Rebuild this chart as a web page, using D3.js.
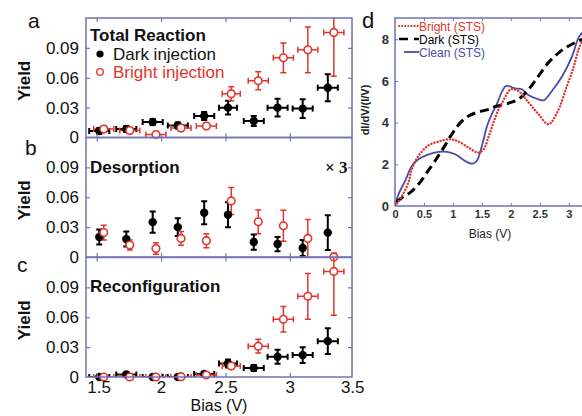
<!DOCTYPE html>
<html><head><meta charset="utf-8">
<script src="https://cdn.jsdelivr.net/npm/d3@7"></script>
<style>html,body{margin:0;padding:0;background:#fff;}svg{display:block;font-family:"Liberation Sans",Arial,sans-serif;}</style>
</head><body>
<svg id="c" width="582" height="416"></svg>
<script>
// ---------- data (left panels) ----------
const biasDark   = [1.52, 1.73, 1.935, 2.13, 2.335, 2.52, 2.72, 2.905, 3.10, 3.295];
const biasBright = [1.555, 1.757, 1.96, 2.155, 2.352, 2.545, 2.755, 2.95, 3.14, 3.342];
const biasErr    = [0.078, 0.078, 0.078, 0.078, 0.078, 0.07, 0.078, 0.078, 0.078, 0.078];

const totalDark      = [0.0065, 0.0085, 0.0155, 0.012, 0.0215, 0.030, 0.0165, 0.030, 0.029, 0.050];
const totalDarkErr   = [0.003, 0.003, 0.003, 0.003, 0.004, 0.007, 0.005, 0.009, 0.0095, 0.0135];
const totalBright    = [0.0085, 0.007, 0.003, 0.0095, 0.0115, 0.044, 0.057, 0.080, 0.088, 0.1055];
const totalBrightErr = [0.003, 0.003, 0.003, 0.003, 0.003, 0.007, 0.009, 0.015, 0.023, 0.044];

const desDark      = [0.020, 0.018, 0.035, 0.030, 0.0445, 0.0425, 0.015, 0.013, 0.009, 0.0245];
const desDarkErr   = [0.0075, 0.0075, 0.0107, 0.009, 0.0115, 0.0125, 0.0077, 0.0072, 0.008, 0.0175];
const desBright    = [0.0245, 0.012, 0.0085, 0.0187, 0.0164, 0.0563, 0.0353, 0.0314, 0.0187, 0.0];
const desBrightErr = [0.0075, 0.005, 0.0058, 0.007, 0.007, 0.0135, 0.012, 0.0155, 0.019, 0.004];

const recDark      = [0.0, 0.0025, 0.0, 0.0, 0.003, 0.0136, 0.009, 0.0203, 0.022, 0.036];
const recDarkErr   = [0.002, 0.002, 0.002, 0.002, 0.002, 0.004, 0.003, 0.007, 0.008, 0.013];
const recBright    = [0.0, 0.0, 0.0, 0.0003, 0.002, 0.011, 0.031, 0.058, 0.081, 0.106];
const recBrightErr = [0.002, 0.002, 0.002, 0.002, 0.002, 0.003, 0.007, 0.0128, 0.023, 0.044];

const yTicks = [0, 0.03, 0.06, 0.09];
const xTicks = [1.5, 2, 2.5, 3, 3.5];
const panelLetters = ["a", "b", "c"];
const panelTitles = ["Total Reaction", "Desorption", "Reconfiguration"];
const legendLabels = ["Dark injection", "Bright injection"];

// ---------- data (STS panel d) ----------
const brightSTSx = [0, 0.12, 0.23, 0.29, 0.405, 0.58, 0.75, 0.95, 1.10, 1.27, 1.44, 1.53, 1.62, 1.70, 1.79, 1.85, 1.93, 2.0, 2.13, 2.31, 2.48, 2.65, 2.80, 2.97, 3.09, 3.17, 3.25];
const brightSTSy = [0, 0.48, 1.12, 1.76, 2.4, 2.91, 3.09, 3.2, 3.09, 2.8, 2.56, 2.72, 3.36, 4.0, 4.64, 4.95, 5.36, 5.6, 5.52, 4.96, 4.4, 3.92, 4.48, 5.76, 6.71, 7.52, 8.0];
const darkSTSx = [0.02, 0.12, 0.26, 0.405, 0.55, 0.69, 0.84, 0.98, 1.13, 1.27, 1.44, 1.62, 1.73, 1.96, 2.13, 2.31, 2.48, 2.65, 2.83, 3.0, 3.17, 3.25];
const darkSTSy = [0.2, 0.4, 0.64, 1.04, 1.6, 2.16, 2.8, 3.44, 4.0, 4.32, 4.51, 4.64, 4.77, 4.93, 5.12, 5.6, 6.24, 6.88, 7.36, 7.68, 7.92, 8.0];
const cleanSTSx = [0, 0.06, 0.175, 0.29, 0.405, 0.58, 0.75, 0.9, 1.04, 1.21, 1.33, 1.41, 1.5, 1.59, 1.67, 1.76, 1.85, 1.92, 2.08, 2.19, 2.31, 2.48, 2.57, 2.71, 2.89, 3.06, 3.17, 3.25];
const cleanSTSy = [0, 0.56, 1.2, 1.92, 2.24, 2.48, 2.6, 2.6, 2.48, 2.16, 2.03, 2.16, 2.88, 3.84, 4.4, 4.9, 5.5, 5.76, 5.64, 5.6, 5.31, 5.12, 5.07, 5.52, 6.24, 7.19, 8.08, 8.35];
const stsXTicks = [0, 0.5, 1, 1.5, 2, 2.5, 3];
const stsYTicks = [0, 2, 4, 6, 8];
const stsLegend = ["Bright (STS)", "Dark (STS)", "Clean (STS)"];

// ---------- styles ----------
const RED = "#e2352c", FRAME = "#7272b8", BLUE = "#4b4ba8";

const svg = d3.select("#c");
svg.append("rect").attr("width", 582).attr("height", 416).attr("fill", "#fff");

const L = 86, R = 352, tops = [18, 137.5, 257.5], H = 119.5;
const x = d3.scaleLinear().domain([1.417, 3.483]).range([L, R]);

const panels = [
  {dark: totalDark, darkErr: totalDarkErr, bright: totalBright, brightErr: totalBrightErr, xerr: true},
  {dark: desDark, darkErr: desDarkErr, bright: desBright, brightErr: desBrightErr, xerr: false},
  {dark: recDark, darkErr: recDarkErr, bright: recBright, brightErr: recBrightErr, xerr: true}
];
const fmt = d => d === 0 ? "0" : d.toFixed(2);

panels.forEach((p, i) => {
  const top = tops[i], bot = top + H;
  const y = d3.scaleLinear().domain([0, 0.12]).range([bot, top]);
  const g = svg.append("g");
  const cid = "clip" + i;
  svg.append("clipPath").attr("id", cid).append("rect")
    .attr("x", L).attr("y", top).attr("width", R - L).attr("height", H);
  const eg = g.append("g").attr("clip-path", `url(#${cid})`);

  function drawSeries(xs, vals, errs, color, sw, filled) {
    vals.forEach((v, k) => {
      const cx = x(xs[k]), cy = y(v);
      const y1 = y(v + errs[k]), y2 = y(v - errs[k]);
      eg.append("line").attr("x1", cx).attr("x2", cx).attr("y1", y1).attr("y2", y2)
        .attr("stroke", color).attr("stroke-width", sw);
      [y1, y2].forEach(yy => eg.append("line").attr("x1", cx - 3).attr("x2", cx + 3)
        .attr("y1", yy).attr("y2", yy).attr("stroke", color).attr("stroke-width", sw));
      if (p.xerr) {
        const xa = x(xs[k] - biasErr[k]), xb = x(xs[k] + biasErr[k]);
        eg.append("line").attr("x1", xa).attr("x2", xb).attr("y1", cy).attr("y2", cy)
          .attr("stroke", color).attr("stroke-width", sw);
        [xa, xb].forEach(xx => eg.append("line").attr("x1", xx).attr("x2", xx)
          .attr("y1", cy - 3).attr("y2", cy + 3).attr("stroke", color).attr("stroke-width", sw));
      }
    });
    vals.forEach((v, k) => {
      g.append("circle").attr("cx", x(xs[k])).attr("cy", y(v)).attr("r", filled ? 4.2 : 3.8)
        .attr("fill", filled ? "#000" : "#fff").attr("stroke", color).attr("stroke-width", filled ? 0 : 1.6);
    });
  }
  drawSeries(biasDark, p.dark, p.darkErr, "#000", 2, true);
  drawSeries(biasBright, p.bright, p.brightErr, RED, 1.5, false);

  // axes (inward ticks)
  const ya = g.append("g").attr("transform", `translate(${L},0)`)
    .call(d3.axisLeft(y).tickValues(yTicks).tickSizeInner(-4).tickSizeOuter(0).tickPadding(7).tickFormat(fmt));
  ya.select(".domain").remove();
  ya.selectAll("text").attr("font-size", 17).attr("font-family", "Liberation Sans, Arial, sans-serif").attr("fill", "#111").attr("dy", "0.38em").attr("y", -1);
  ya.selectAll("line").attr("stroke", FRAME).attr("stroke-width", 1.2).filter(d => d === 0).remove();
  const yr = g.append("g").attr("transform", `translate(${R},0)`)
    .call(d3.axisRight(y).tickValues(yTicks.filter(d => d > 0)).tickSizeInner(-4).tickSizeOuter(0).tickFormat(""));
  yr.select(".domain").remove(); yr.selectAll("line").attr("stroke", FRAME).attr("stroke-width", 1.2);
  const xt = g.append("g").attr("transform", `translate(0,${top})`)
    .call(d3.axisTop(x).tickValues(xTicks.slice(0, 4)).tickSizeInner(-4).tickSizeOuter(0).tickFormat(""));
  xt.select(".domain").remove(); xt.selectAll("line").attr("stroke", FRAME).attr("stroke-width", 1.2);
  const xb = g.append("g").attr("transform", `translate(0,${bot})`)
    .call(d3.axisBottom(x).tickValues(xTicks).tickSizeInner(-4).tickSizeOuter(0).tickPadding(4)
      .tickFormat(i === 2 ? (d => String(d)) : ""));
  xb.select(".domain").remove();
  xb.selectAll("line").attr("stroke", FRAME).attr("stroke-width", 1.2).filter(d => d > 3.483).remove();
  xb.selectAll("text").attr("font-size", 17).attr("font-family", "Liberation Sans, Arial, sans-serif").attr("fill", "#111")
    .attr("dx", d => d === 1.5 ? 2 : (d === 3.5 ? -2 : 0));

  g.append("rect").attr("x", L).attr("y", top).attr("width", R - L).attr("height", H)
    .attr("fill", "none").attr("stroke", FRAME).attr("stroke-width", 1.5);

  // texts
  svg.append("text").attr("x", i === 2 ? 17 : (i === 1 ? 25 : 28)).attr("y", [28, 155, 272][i])
    .attr("font-size", 21).attr("fill", "#111").text(panelLetters[i]);
  svg.append("text").attr("transform", `translate(30,${top + H / 2 + 3}) rotate(-90)`)
    .attr("text-anchor", "middle").attr("font-size", 17).attr("font-weight", "bold").attr("fill", "#111").text("Yield");
  svg.append("text").attr("x", 90).attr("y", [41, 173, 292][i]).attr("font-size", 17)
    .attr("font-weight", "bold").attr("fill", "#111").text(panelTitles[i]);
});

// legend of panel a
svg.append("circle").attr("cx", 100).attr("cy", 54).attr("r", 3.6).attr("fill", "#000");
svg.append("text").attr("x", 113).attr("y", 60).attr("font-size", 17).attr("fill", "#111").text(legendLabels[0]);
svg.append("circle").attr("cx", 100).attr("cy", 72).attr("r", 3.3).attr("fill", "#fff").attr("stroke", RED).attr("stroke-width", 1.3);
svg.append("text").attr("x", 113).attr("y", 78).attr("font-size", 17).attr("fill", RED).text(legendLabels[1]);
// x3 note
svg.append("text").attr("x", 325).attr("y", 173).attr("font-size", 17).attr("font-weight", "bold").attr("font-family", "Liberation Serif, serif").attr("fill", "#111").text("× 3");
// x label
svg.append("text").attr("x", 219).attr("y", 411).attr("text-anchor", "middle").attr("font-size", 16).attr("fill", "#111").text("Bias (V)");

// ---------- panel d ----------
const dL = 395, dT = 18, dB = 206;
const xd = d3.scaleLinear().domain([0, 3.5]).range([dL, dL + 3.5 * 57.9]);
const yd = d3.scaleLinear().domain([0, 9.02]).range([dB, dT]);
const gd = svg.append("g");
svg.append("clipPath").attr("id", "clipd").append("rect").attr("x", dL).attr("y", dT).attr("width", 200).attr("height", dB - dT);
const cg = gd.append("g").attr("clip-path", "url(#clipd)");
const line = d3.line().x(d => xd(d[0])).y(d => yd(d[1])).curve(d3.curveCatmullRom.alpha(0.5));
const zip = (a, b) => a.map((v, k) => [v, b[k]]);
cg.append("path").attr("d", line(zip(cleanSTSx, cleanSTSy))).attr("fill", "none").attr("stroke", BLUE).attr("stroke-width", 1.8);
cg.append("path").attr("d", line(zip(darkSTSx, darkSTSy))).attr("fill", "none").attr("stroke", "#000").attr("stroke-width", 3).attr("stroke-dasharray", "9,5");
cg.append("path").attr("d", line(zip(brightSTSx, brightSTSy))).attr("fill", "none").attr("stroke", RED).attr("stroke-width", 2.4).attr("stroke-dasharray", "0.1,3.1").attr("stroke-linecap", "round");

const ax1 = gd.append("g").attr("transform", `translate(0,${dB})`)
  .call(d3.axisBottom(xd).tickValues(stsXTicks).tickSizeInner(-3).tickSizeOuter(0).tickPadding(4).tickFormat(d => String(d)));
ax1.select(".domain").remove();
ax1.selectAll("line").attr("stroke", FRAME).filter(d => d === 0).remove();
ax1.selectAll("text").attr("font-size", 11).attr("font-weight", "bold").attr("fill", "#333").attr("font-family", "Liberation Sans, Arial, sans-serif");
const ax2 = gd.append("g").attr("transform", `translate(0,${dT})`)
  .call(d3.axisTop(xd).tickValues(stsXTicks.slice(1)).tickSizeInner(-3).tickSizeOuter(0).tickFormat(""));
ax2.select(".domain").remove(); ax2.selectAll("line").attr("stroke", FRAME);
const ay = gd.append("g").attr("transform", `translate(${dL},0)`)
  .call(d3.axisLeft(yd).tickValues(stsYTicks).tickSizeInner(-3).tickSizeOuter(0).tickPadding(6));
ay.select(".domain").remove();
ay.selectAll("line").attr("stroke", FRAME).filter(d => d === 0).remove();
ay.selectAll("text").attr("font-size", 13).attr("font-weight", "bold").attr("fill", "#333").attr("font-family", "Liberation Sans, Arial, sans-serif");

gd.append("path").attr("d", `M600,${dT}H${dL}V${dB}H600`).attr("fill", "none").attr("stroke", FRAME).attr("stroke-width", 1.5);

// legend d
const legY = [26, 39, 52];
const legCol = [RED, "#000", BLUE];
gd.append("line").attr("x1", 399).attr("x2", 419).attr("y1", legY[0]).attr("y2", legY[0]).attr("stroke", RED).attr("stroke-width", 2.2).attr("stroke-dasharray", "0.1,3").attr("stroke-linecap", "round");
gd.append("line").attr("x1", 399).attr("x2", 419).attr("y1", legY[1]).attr("y2", legY[1]).attr("stroke", "#000").attr("stroke-width", 2.6).attr("stroke-dasharray", "9,6");
gd.append("line").attr("x1", 404).attr("x2", 419).attr("y1", legY[2]).attr("y2", legY[2]).attr("stroke", BLUE).attr("stroke-width", 1.8);
stsLegend.forEach((t, k) => gd.append("text").attr("x", 419).attr("y", legY[k] + 4.5)
  .attr("font-size", 12).attr("fill", legCol[k]).text(t));

svg.append("text").attr("x", 362).attr("y", 28).attr("font-size", 22).attr("fill", "#111").text("d");
svg.append("text").attr("transform", "translate(369,110) rotate(-90)").attr("text-anchor", "middle")
  .attr("font-size", 11).attr("font-weight", "bold").attr("fill", "#222").text("dI/dV/(I/V)");
svg.append("text").attr("x", 490).attr("y", 238).attr("text-anchor", "middle").attr("font-size", 12).attr("fill", "#222").text("Bias (V)");
</script>
</body></html>
